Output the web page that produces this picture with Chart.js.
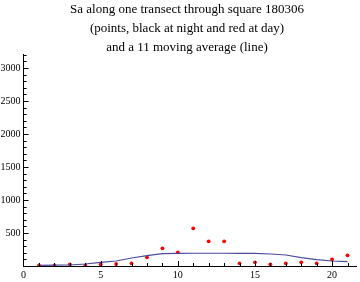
<!DOCTYPE html>
<html>
<head>
<meta charset="utf-8">
<script src="https://cdn.jsdelivr.net/npm/chart.js@4"></script>
<style>
  html, body { margin: 0; padding: 0; background: #fff; }
  #wrap { width: 360px; height: 282px; position: relative; }
</style>
</head>
<body>
<div id="wrap"><canvas id="c"></canvas></div>
<script>
// Sa along one transect -- points (red day / black night) + 11 moving average
const titleLines = [
  'Sa along one transect through square 180306',
  '(points, black at night and red at day)',
  'and a 11 moving average (line)'
];
const positions = [1, 2, 3, 4, 5, 6, 7, 8, 9, 10, 11, 12, 13, 14, 15, 16, 17, 18, 19, 20, 21];
const saValues  = [10, 10, 25, 10, 25, 30, 40, 132, 268, 207, 571, 374, 374, 40, 55, 25, 40, 55, 40, 100, 162];
const pointColours = ['red', 'red', 'red', 'red', 'red', 'red', 'red', 'red', 'red', 'red', 'red',
                      'red', 'red', 'red', 'red', 'red', 'red', 'red', 'red', 'red', 'red'];
const movingAvg = [10, 12, 15, 30, 56, 76, 121, 156, 186, 192, 193, 193, 193, 192, 190, 182, 167, 126, 96, 76, 65];
const xTicks = [0, 5, 10, 15, 20];
const yTicks = [500, 1000, 1500, 2000, 2500, 3000];

const serif = '"Liberation Serif", "DejaVu Serif", serif';

// inward-pointing Mathematica-style ticks + title
const axesDecor = {
  id: 'axesDecor',
  afterDraw(chart) {
    const ctx = chart.ctx;
    const xs = chart.scales.x, ys = chart.scales.y;
    const x0 = xs.getPixelForValue(0), y0 = ys.getPixelForValue(0);
    ctx.save();
    ctx.strokeStyle = '#000';
    ctx.lineWidth = 1;
    ctx.beginPath();
    for (let v = 1; v <= 21; v++) {
      const px = Math.round(xs.getPixelForValue(v)) + 0.5;
      const len = v % 5 === 0 ? 5 : 3;
      ctx.moveTo(px, y0); ctx.lineTo(px, y0 - len);
    }
    for (let v = 100; v <= 3200; v += 100) {
      const py = Math.round(ys.getPixelForValue(v)) + 0.5;
      const len = v % 500 === 0 ? 5 : 3;
      ctx.moveTo(x0, py); ctx.lineTo(x0 + len, py);
    }
    ctx.stroke();

    ctx.fillStyle = '#000';
    ctx.font = '13px ' + serif;
    ctx.textAlign = 'center';
    ctx.textBaseline = 'alphabetic';
    titleLines.forEach(function (t, i) { ctx.fillText(t, 187, 13 + i * 19); });
    ctx.restore();
  }
};

new Chart(document.getElementById('c'), {
  data: {
    datasets: [
      {
        type: 'scatter',
        label: 'Sa',
        data: positions.map(function (x, i) { return { x: x, y: saValues[i] }; }),
        pointBackgroundColor: pointColours,
        pointBorderColor: pointColours,
        pointRadius: 1.9,
        pointBorderWidth: 0,
        order: 1
      },
      {
        type: 'line',
        label: 'moving average',
        data: positions.map(function (x, i) { return { x: x, y: movingAvg[i] }; }),
        borderColor: '#4a4a9c',
        borderWidth: 1.2,
        pointRadius: 0,
        tension: 0,
        fill: false,
        order: 0
      }
    ]
  },
  options: {
    responsive: true,
    maintainAspectRatio: false,
    animation: false,
    layout: { padding: { top: 54, left: 0, right: 0, bottom: 0 } },
    plugins: { legend: { display: false }, title: { display: false }, tooltip: { enabled: false } },
    scales: {
      x: {
        type: 'linear',
        min: 0,
        max: 21.55,
        grid: { display: false, drawTicks: false, tickLength: 0 },
        border: { display: true, color: '#000', width: 1 },
        afterFit: function (s) { s.height = 16; },
        afterBuildTicks: function (s) { s.ticks = xTicks.map(function (v) { return { value: v }; }); },
        ticks: { font: { family: serif, size: 10 }, color: '#000', padding: 3, maxRotation: 0,
                 callback: function (v) { return String(v); } }
      },
      y: {
        type: 'linear',
        min: 0,
        max: 3212,
        grid: { display: false, drawTicks: false, tickLength: 0 },
        border: { display: true, color: '#000', width: 1 },
        afterFit: function (s) { s.width = 23.6; },
        afterBuildTicks: function (s) { s.ticks = yTicks.map(function (v) { return { value: v }; }); },
        ticks: { font: { family: serif, size: 10 }, color: '#000', padding: 3,
                 callback: function (v) { return String(v); } }
      }
    }
  },
  plugins: [axesDecor]
});
</script>
</body>
</html>
